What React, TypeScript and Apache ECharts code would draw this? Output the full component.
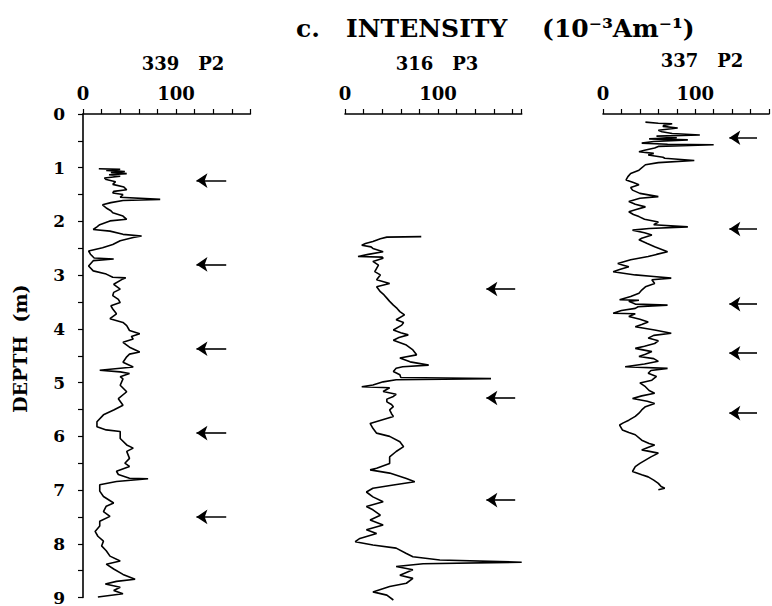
import React, { useEffect, useRef } from "react";
import * as echarts from "echarts";

// ---------- DATA ----------
const core339Depth = [1.02, 1.03, 1.05, 1.07, 1.09, 1.11, 1.13, 1.16, 1.19, 1.22, 1.26, 1.31, 1.36, 1.41, 1.44, 1.47, 1.5, 1.55, 1.59, 1.61, 1.65, 1.69, 1.75, 1.8, 1.84, 1.9, 1.96, 1.99, 2.06, 2.1, 2.15, 2.18, 2.24, 2.27, 2.3, 2.36, 2.43, 2.49, 2.55, 2.61, 2.68, 2.7, 2.73, 2.83, 2.92, 2.98, 3.04, 3.05, 3.07, 3.17, 3.26, 3.32, 3.38, 3.45, 3.51, 3.57, 3.63, 3.72, 3.81, 3.88, 3.94, 4.03, 4.09, 4.14, 4.19, 4.25, 4.34, 4.43, 4.47, 4.52, 4.62, 4.71, 4.77, 4.8, 4.83, 4.89, 4.93, 5.05, 5.17, 5.3, 5.42, 5.51, 5.6, 5.73, 5.82, 5.88, 5.91, 6.04, 6.16, 6.22, 6.28, 6.41, 6.5, 6.56, 6.65, 6.71, 6.78, 6.79, 6.84, 6.9, 7.02, 7.12, 7.24, 7.3, 7.4, 7.49, 7.58, 7.67, 7.77, 7.86, 7.95, 8.04, 8.13, 8.23, 8.32, 8.38, 8.47, 8.57, 8.66, 8.7, 8.75, 8.81, 8.87, 8.93, 8.99];
const core339Value = [17, 40, 25, 45, 30, 47, 28, 40, 23, 25, 35, 32, 44, 47, 33, 32, 43, 40, 83, 43, 30, 21, 25, 30, 32, 43, 47, 29, 18, 15, 11, 29, 43, 63, 54, 40, 32, 21, 6, 8, 12, 33, 11, 6, 11, 25, 32, 46, 43, 33, 40, 33, 32, 38, 40, 30, 32, 36, 29, 43, 47, 50, 61, 52, 54, 43, 50, 61, 50, 47, 43, 54, 18, 40, 50, 40, 43, 40, 47, 38, 43, 33, 22, 15, 15, 25, 40, 40, 47, 54, 47, 50, 45, 50, 36, 38, 50, 70, 36, 18, 18, 22, 33, 25, 22, 29, 18, 18, 13, 16, 22, 20, 25, 29, 40, 25, 33, 43, 56, 36, 24, 40, 33, 43, 16];

const core316Depth = [2.27, 2.28, 2.31, 2.36, 2.4, 2.43, 2.46, 2.49, 2.55, 2.6, 2.64, 2.65, 2.67, 2.73, 2.8, 2.86, 2.92, 2.98, 3.07, 3.14, 3.2, 3.29, 3.35, 3.41, 3.47, 3.54, 3.6, 3.66, 3.72, 3.81, 3.86, 3.91, 4.0, 4.05, 4.09, 4.14, 4.19, 4.28, 4.37, 4.46, 4.52, 4.59, 4.65, 4.68, 4.71, 4.77, 4.83, 4.88, 4.9, 4.92, 4.96, 5.02, 5.05, 5.07, 5.14, 5.19, 5.23, 5.28, 5.33, 5.38, 5.42, 5.48, 5.55, 5.6, 5.73, 5.82, 5.91, 5.97, 6.07, 6.16, 6.25, 6.35, 6.47, 6.56, 6.59, 6.65, 6.75, 6.81, 6.87, 6.93, 7.0, 7.09, 7.18, 7.27, 7.33, 7.43, 7.52, 7.61, 7.7, 7.77, 7.86, 7.92, 7.98, 8.04, 8.14, 8.2, 8.26, 8.3, 8.33, 8.38, 8.44, 8.54, 8.6, 8.69, 8.75, 8.85, 8.91, 9.0];
const core316Value = [82, 45, 38, 30, 22, 18, 28, 30, 41, 25, 14, 40, 41, 30, 36, 34, 32, 38, 34, 48, 34, 38, 42, 45, 48, 52, 56, 59, 64, 55, 63, 61, 52, 60, 68, 58, 52, 66, 73, 77, 59, 70, 90, 62, 55, 52, 59, 60, 157, 55, 41, 30, 18, 48, 41, 55, 52, 45, 45, 50, 52, 48, 50, 52, 27, 30, 34, 48, 59, 63, 55, 48, 48, 34, 27, 48, 66, 75, 52, 30, 23, 30, 41, 23, 30, 38, 27, 41, 23, 34, 16, 11, 30, 55, 66, 73, 102, 190, 84, 55, 73, 59, 73, 66, 48, 30, 45, 52];

const core337Depth = [0.15, 0.17, 0.18, 0.2, 0.21, 0.23, 0.26, 0.3, 0.33, 0.36, 0.39, 0.41, 0.44, 0.46, 0.48, 0.51, 0.54, 0.56, 0.57, 0.6, 0.63, 0.67, 0.7, 0.73, 0.76, 0.8, 0.82, 0.86, 0.9, 0.94, 1.04, 1.1, 1.16, 1.22, 1.27, 1.31, 1.36, 1.41, 1.47, 1.53, 1.56, 1.62, 1.67, 1.72, 1.77, 1.81, 1.86, 1.9, 1.95, 2.0, 2.05, 2.09, 2.12, 2.15, 2.2, 2.24, 2.3, 2.33, 2.4, 2.46, 2.55, 2.6, 2.64, 2.7, 2.77, 2.8, 2.83, 2.88, 2.92, 2.98, 3.01, 3.04, 3.07, 3.14, 3.2, 3.26, 3.32, 3.38, 3.44, 3.45, 3.47, 3.52, 3.54, 3.57, 3.6, 3.64, 3.69, 3.7, 3.75, 3.8, 3.85, 3.9, 3.94, 4.0, 4.06, 4.1, 4.15, 4.2, 4.25, 4.3, 4.34, 4.4, 4.45, 4.49, 4.53, 4.58, 4.63, 4.68, 4.71, 4.75, 4.8, 4.86, 4.93, 4.98, 5.05, 5.12, 5.17, 5.22, 5.27, 5.32, 5.36, 5.42, 5.48, 5.54, 5.6, 5.67, 5.72, 5.76, 5.85, 5.9, 5.94, 6.04, 6.1, 6.13, 6.18, 6.22, 6.28, 6.35, 6.41, 6.47, 6.53, 6.62, 6.68, 6.72, 6.78, 6.84, 6.9, 6.93, 6.96];
const core337Value = [46, 60, 75, 70, 66, 65, 81, 60, 64, 75, 105, 58, 80, 50, 92, 55, 42, 70, 120, 60, 56, 45, 39, 55, 49, 65, 67, 99, 60, 46, 39, 30, 27, 25, 33, 39, 30, 32, 40, 60, 40, 28, 35, 46, 36, 28, 33, 39, 45, 60, 55, 92, 50, 32, 45, 53, 42, 39, 48, 56, 70, 58, 49, 30, 16, 22, 28, 18, 11, 35, 55, 74, 53, 56, 46, 42, 39, 30, 18, 39, 28, 35, 70, 38, 35, 20, 11, 35, 28, 40, 49, 42, 35, 56, 74, 55, 49, 60, 56, 45, 35, 53, 46, 39, 55, 60, 45, 24, 70, 52, 49, 58, 53, 40, 46, 50, 56, 42, 32, 48, 56, 46, 42, 39, 35, 28, 22, 18, 21, 28, 35, 42, 50, 56, 48, 42, 60, 52, 46, 40, 35, 32, 42, 49, 55, 60, 63, 67, 60];

const arrows339 = [1.24, 2.8, 4.37, 5.94, 7.5];
const arrows316 = [3.24, 5.26, 7.15];
const arrows337 = [0.44, 2.13, 3.52, 4.43, 5.54];

const coreNames = ["339   P2", "316   P3", "337   P2"];
const xTickLabels = [0, 100];
const depthTicks = [0, 1, 2, 3, 4, 5, 6, 7, 8, 9];

const FONT = '"DejaVu Serif", "Liberation Serif", serif';

function pairs(depth: number[], value: number[]) {
  return depth.map((d, i) => [value[i], d]);
}

export default function App() {
  const ref = useRef<HTMLDivElement>(null);
  useEffect(() => {
    if (!ref.current) return;
    const chart = echarts.init(ref.current, null, { renderer: "svg" });

    const grids = [
      { left: 83, top: 114, width: 167.4, height: 486 },
      { left: 345, top: 114, width: 176.7, height: 486 },
      { left: 603, top: 114, width: 171, height: 486 },
    ];
    const xMax = [180, 190, 180];

    const xAxes = grids.map((_, i) => ({
      gridIndex: i,
      type: "value",
      position: "top",
      min: 0,
      max: xMax[i],
      interval: 20,
      axisLine: { show: true, onZero: false, lineStyle: { color: "#000", width: 1.6 } },
      axisTick: { show: true, length: 5, lineStyle: { color: "#000", width: 1.2 } },
      splitLine: { show: false },
      axisLabel: {
        margin: 12,
        color: "#000",
        fontFamily: FONT,
        fontWeight: "bold",
        fontSize: 18,
        hideOverlap: false,
        formatter: (v: number) => (xTickLabels.indexOf(v) >= 0 ? String(v) : ""),
      },
    }));

    const yAxes = grids.map((_, i) => ({
      gridIndex: i,
      type: "value",
      inverse: true,
      min: 0,
      max: 9,
      interval: 0.5,
      show: i === 0,
      axisLine: { show: true, onZero: false, lineStyle: { color: "#000", width: 1.6 } },
      axisTick: { show: true, length: 5, lineStyle: { color: "#000", width: 1.2 } },
      splitLine: { show: false },
      axisLabel: {
        margin: 18,
        color: "#000",
        fontFamily: FONT,
        fontWeight: "bold",
        fontSize: 17,
        formatter: (v: number) => (depthTicks.indexOf(v) >= 0 ? String(v) : ""),
      },
      name: i === 0 ? "DEPTH  (m)" : "",
      nameLocation: "middle",
      nameGap: 54,
      nameRotate: 90,
      nameTextStyle: { color: "#000", fontFamily: FONT, fontWeight: "bold", fontSize: 19, padding: [0, 0, 0, 14] },
    }));

    const curves = [
      pairs(core339Depth, core339Value),
      pairs(core316Depth, core316Value),
      pairs(core337Depth, core337Value),
    ];
    const arrows = [arrows339, arrows316, arrows337];
    const arrowFrom = [154, 183, 167];
    const arrowTo = [122, 152, 137];

    const series: any[] = [];
    curves.forEach((data, i) => {
      series.push({
        type: "line",
        xAxisIndex: i,
        yAxisIndex: i,
        data,
        symbol: "none",
        showSymbol: false,
        clip: false,
        lineStyle: { color: "#000", width: 1.6 },
        silent: true,
      });
      series.push({
        type: "lines",
        coordinateSystem: "cartesian2d",
        xAxisIndex: i,
        yAxisIndex: i,
        symbol: ["none", "arrow"],
        symbolSize: [9, 11],
        lineStyle: { color: "#000", width: 1.6, opacity: 1, curveness: 0 },
        silent: true,
        data: arrows[i].map((d) => ({ coords: [[arrowFrom[i], d], [arrowTo[i], d]] })),
      });
    });

    const labelX = [183, 437, 702];
    const labelY = [63, 63, 60];

    chart.setOption({
      animation: false,
      backgroundColor: "#fff",
      grid: grids,
      xAxis: xAxes,
      yAxis: yAxes,
      series,
      graphic: [
        {
          type: "text",
          x: 296,
          y: 28,
          style: {
            text: "c.   INTENSITY    (10\u207B\u00B3Am\u207B\u00B9)",
            font: `bold 25px ${FONT}`,
            fill: "#000",
            textAlign: "left",
            textVerticalAlign: "middle",
          },
        },
        ...coreNames.map((t, i) => ({
          type: "text",
          x: labelX[i],
          y: labelY[i],
          style: {
            text: t,
            font: `bold 18px ${FONT}`,
            fill: "#000",
            textAlign: "center",
            textVerticalAlign: "middle",
          },
        })),
      ],
    });
    return () => chart.dispose();
  }, []);
  return (
    <div
      ref={ref}
      style={{ position: "absolute", left: 0, top: 0, width: 772, height: 606 }}
    />
  );
}
